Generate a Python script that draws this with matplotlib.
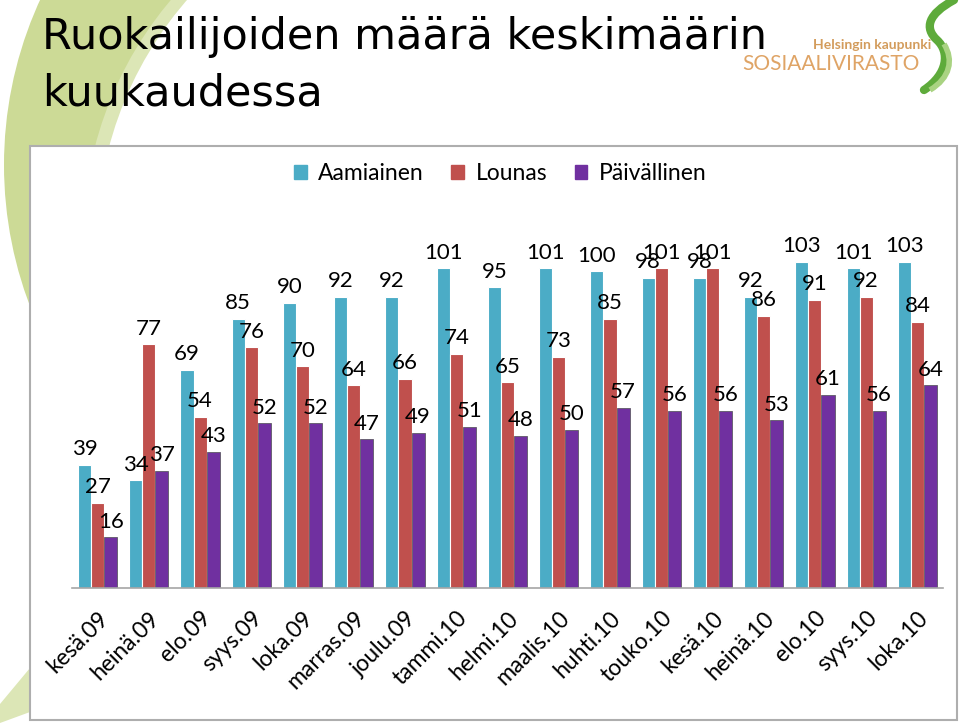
import matplotlib
matplotlib.use("Agg")
import matplotlib.pyplot as plt
import numpy as np
from matplotlib.patches import Circle, Rectangle, Polygon, PathPatch
from matplotlib.path import Path

# ---------------- data ----------------
categories = ["kesä.09", "heinä.09", "elo.09", "syys.09", "loka.09", "marras.09",
              "joulu.09", "tammi.10", "helmi.10", "maalis.10", "huhti.10", "touko.10",
              "kesä.10", "heinä.10", "elo.10", "syys.10", "loka.10"]
aamiainen = [39, 34, 69, 85, 90, 92, 92, 101, 95, 101, 100, 98, 98, 92, 103, 101, 103]
lounas = [27, 77, 54, 76, 70, 64, 66, 74, 65, 73, 85, 101, 101, 86, 91, 92, 84]
paivallinen = [16, 37, 43, 52, 52, 47, 49, 51, 48, 50, 57, 56, 56, 53, 61, 56, 64]
series_names = ["Aamiainen", "Lounas", "Päivällinen"]
title_lines = ["Ruokailijoiden määrä keskimäärin", "kuukaudessa"]

colors = ["#4BACC6", "#C0504D", "#7030A0"]
FONT = ["Lato", "DejaVu Sans"]

fig = plt.figure(figsize=(9.6, 7.23), dpi=100)

# ---------------- background decoration (pixel coords) ----------------
bg = fig.add_axes([0, 0, 1, 1], zorder=0)
bg.set_xlim(0, 960)
bg.set_ylim(723, 0)
bg.axis("off")
clip = Rectangle((0, 0), 300, 723, transform=bg.transData)
for center, r, col in [((400, 165), 396, "#CCDA96"),
                       ((455, 240), 372, "#DCE6B6"),
                       ((462, 240), 365, "white")]:
    c = Circle(center, r, color=col, lw=0)
    bg.add_patch(c)
    c.set_clip_path(clip)
bg.add_patch(Polygon([(0, 704), (30, 668), (30, 712), (0, 723)], closed=True,
                     color="#DCE6B6", lw=0))

# chart frame
bg.add_patch(Rectangle((30, 146), 927, 574, facecolor="white", edgecolor="#AEAEAE", lw=1.5))

# title
bg.text(42, 49, title_lines[0], fontsize=31, family="DejaVu Sans", va="baseline", ha="left",
        color="black")
bg.text(42, 105, title_lines[1], fontsize=31, family="DejaVu Sans", va="baseline", ha="left",
        color="black")

# logo
bg.text(872, 45, "Helsingin kaupunki", fontsize=10, fontweight="bold", family=FONT,
        color="#D39C5C", ha="center", va="center")
bg.text(831, 64, "SOSIAALIVIRASTO", fontsize=15, family=FONT,
        color="#DFA466", ha="center", va="center")
sw = Path([(954, 0), (928, 14), (924, 28), (937, 40), (950, 52), (948, 74), (924, 90)],
          [Path.MOVETO, Path.CURVE4, Path.CURVE4, Path.CURVE4, Path.CURVE4, Path.CURVE4, Path.CURVE4])
bg.add_patch(PathPatch(sw, facecolor="none", edgecolor="#5EAB3B", lw=6, capstyle="round"))
sw2 = Path([(944, 44), (954, 60), (950, 78), (930, 90)],
           [Path.MOVETO, Path.CURVE4, Path.CURVE4, Path.CURVE4])
bg.add_patch(PathPatch(sw2, facecolor="none", edgecolor="#A9D382", lw=4))

# ---------------- chart ----------------
ax = fig.add_axes([72 / 960, 135 / 723, 871 / 960, 380 / 723], zorder=1)
ax.patch.set_visible(False)
x = np.arange(len(categories))
w = 0.255
data = [aamiainen, lounas, paivallinen]
edges = ["white", "white", "#5E5A66"]
elw = [0.8, 0.8, 0.6]
for i, (vals, col) in enumerate(zip(data, colors)):
    bars = ax.bar(x + (i - 1) * w, vals, width=w, color=col, edgecolor=edges[i],
                  linewidth=elw[i], label=series_names[i])
    for b, v in zip(bars, vals):
        ax.annotate(str(v), (b.get_x() + b.get_width() / 2, v), xytext=(0, 4),
                    textcoords="offset points", ha="center", va="bottom",
                    fontsize=16, family=FONT, color="black")

ax.set_xlim(-0.5, len(categories) - 0.5)
ax.set_ylim(0, 120)
for s in ["top", "right", "left"]:
    ax.spines[s].set_visible(False)
ax.spines["bottom"].set_color("#A6A6A6")
ax.spines["bottom"].set_linewidth(1.2)
ax.set_yticks([])
ax.set_xticks(x)
ax.set_xticklabels(categories, rotation=45, ha="right", rotation_mode="anchor",
                   fontsize=16.5, family=FONT)
ax.tick_params(axis="x", length=0, pad=14)

handles = [Rectangle((0, 0), 1, 1, color=c) for c in colors]
fig.legend(handles, series_names, loc="center", bbox_to_anchor=(0.521, 1 - 174 / 723),
           ncol=3, frameon=False, prop={"family": FONT, "size": 16.5},
           handlelength=0.55, handleheight=0.55, handletextpad=0.5, columnspacing=1.2)

fig.savefig("out.png", dpi=100)
